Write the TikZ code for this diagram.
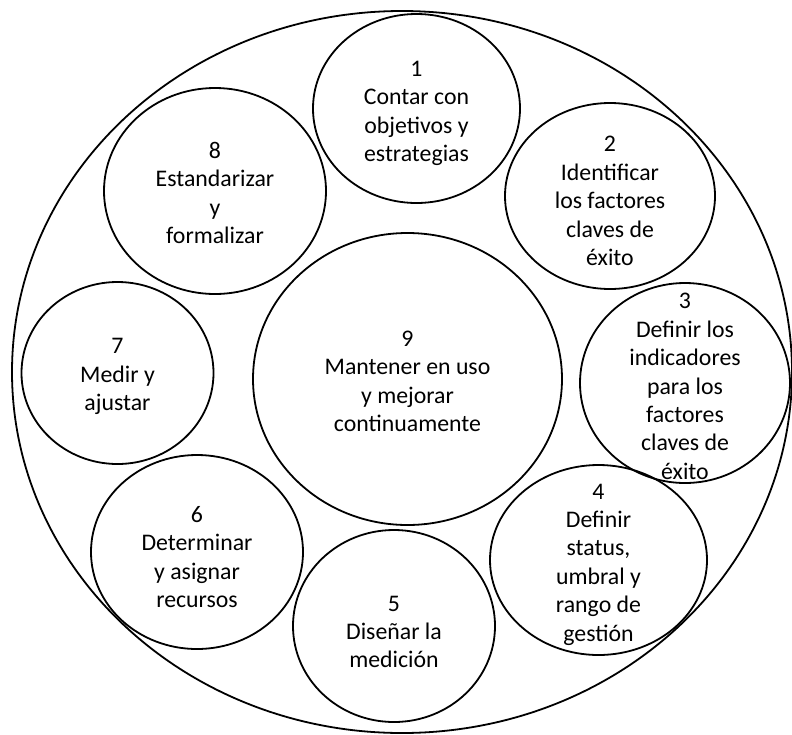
\documentclass[tikz,border=0pt]{standalone}
\usepackage{fontspec}
\setmainfont{Carlito}
\usetikzlibrary{shapes.geometric}
\begin{document}
\begin{tikzpicture}[x=1pt,y=-1pt,
  ring/.style={draw, ellipse, line width=1.8pt, inner sep=0pt},
  lbl/.style={align=center, inner sep=0pt, font=\fontsize{23.8}{28.4}\selectfont}]
\useasboundingbox (0,0) rectangle (792,734);
\node[ring, minimum width=780pt, minimum height=722pt] (big) at (402,372) {};
\node[ring, minimum width=207pt, minimum height=189pt] (c1) at (416.5,108.5) {};
\node[ring, minimum width=210pt, minimum height=186pt] (c2) at (610,196) {};
\node[ring, minimum width=210pt, minimum height=200pt] (c3) at (685,383) {};
\node[ring, minimum width=217pt, minimum height=190pt] (c4) at (598.5,560) {};
\node[ring, minimum width=202pt, minimum height=192pt] (c5) at (394,626) {};
\node[ring, minimum width=212pt, minimum height=194pt] (c6) at (197,552) {};
\node[ring, minimum width=192pt, minimum height=182pt] (c7) at (117.5,373) {};
\node[ring, minimum width=222pt, minimum height=206pt] (c8) at (215,191) {};
\node[ring, minimum width=309pt, minimum height=292pt] (c9) at (407.5,379) {};
\node[lbl] (t1) at ([yshift=-5pt]c1.center) {1\\Contar con\\objetivos y\\estrategias};
\node[lbl] (t2) at ([yshift=-5pt]c2.center) {2\\Identificar\\los factores\\claves de\\éxito};
\node[lbl] (t3) at ([yshift=-3.5pt]c3.center) {3\\Definir los\\indicadores\\para los\\factores\\claves de\\éxito};
\node[lbl] (t4) at ([yshift=-4.5pt]c4.center) {4\\Definir\\status,\\umbral y\\rango de\\gestión};
\node[lbl] (t5) at ([yshift=-6pt]c5.center) {5\\Diseñar la\\medición};
\node[lbl] (t6) at ([yshift=-5pt]c6.center) {6\\Determinar\\y asignar\\recursos};
\node[lbl] (t7) at ([yshift=-3.5pt]c7.center) {7\\Medir y\\ajustar};
\node[lbl] (t8) at ([yshift=-2pt]c8.center) {8\\Estandarizar\\y\\formalizar};
\node[lbl] (t9) at ([yshift=-2.5pt]c9.center) {9\\Mantener en uso\\y mejorar\\continuamente};
\end{tikzpicture}
\end{document}
